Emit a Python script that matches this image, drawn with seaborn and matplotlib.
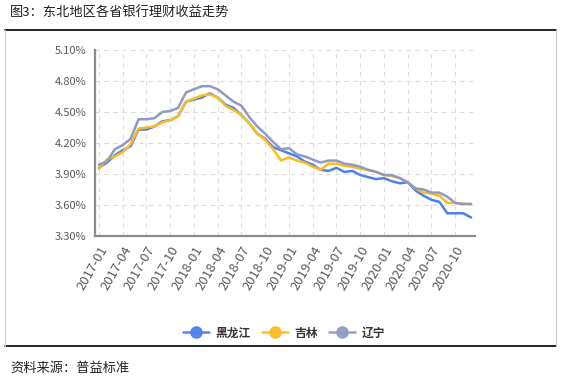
import numpy as np
import pandas as pd
import matplotlib.pyplot as plt
import seaborn as sns
from matplotlib.lines import Line2D

# ── data (monthly 2017-01 .. 2020-12) ──────────────────────────────────────
months = pd.date_range("2017-01", periods=48, freq="MS").strftime("%Y-%m").tolist()

heilongjiang = [3.96, 4.01, 4.08, 4.13, 4.17, 4.33, 4.33, 4.36, 4.41, 4.42, 4.46, 4.60,
                4.62, 4.64, 4.68, 4.64, 4.57, 4.54, 4.47, 4.39, 4.29, 4.24, 4.16, 4.13,
                4.10, 4.07, 4.02, 3.99, 3.94, 3.93, 3.96, 3.92, 3.93, 3.89, 3.87, 3.85,
                3.86, 3.83, 3.81, 3.82, 3.74, 3.69, 3.65, 3.63, 3.52, 3.52, 3.52, 3.48]
jilin = [3.95, 4.04, 4.07, 4.11, 4.19, 4.34, 4.35, 4.36, 4.40, 4.42, 4.46, 4.60,
         4.63, 4.66, 4.67, 4.64, 4.56, 4.52, 4.47, 4.39, 4.29, 4.23, 4.14, 4.03,
         4.06, 4.03, 4.01, 3.97, 3.94, 4.00, 4.00, 3.98, 3.97, 3.95, 3.94, 3.92,
         3.89, 3.88, 3.86, 3.82, 3.76, 3.72, 3.71, 3.69, 3.62, 3.62, 3.61, 3.61]
liaoning = [3.99, 4.02, 4.14, 4.18, 4.24, 4.43, 4.43, 4.44, 4.50, 4.51, 4.54, 4.69,
            4.72, 4.75, 4.75, 4.72, 4.66, 4.60, 4.56, 4.45, 4.36, 4.29, 4.21, 4.14,
            4.15, 4.09, 4.07, 4.04, 4.01, 4.03, 4.03, 4.00, 3.99, 3.97, 3.94, 3.92,
            3.89, 3.89, 3.86, 3.82, 3.76, 3.75, 3.72, 3.72, 3.68, 3.62, 3.61, 3.61]

names = ["黑龙江", "吉林", "辽宁"]
colors = ["#4f80f0", "#fbbd1e", "#8e9cc3"]
yticks = [3.30, 3.60, 3.90, 4.20, 4.50, 4.80, 5.10]

df = pd.DataFrame({"month": months, "idx": range(len(months)),
                   "黑龙江": heilongjiang, "吉林": jilin, "辽宁": liaoning})
long = df.melt(id_vars=["month", "idx"], value_vars=names,
               var_name="province", value_name="rate")

# ── plot ───────────────────────────────────────────────────────────────────
sns.set_style("white")
plt.rcParams["font.family"] = ["Noto Sans CJK SC", "DejaVu Sans"]

fig = plt.figure(figsize=(5.67, 3.82), dpi=100)
ax = fig.add_axes([95 / 567, 1 - 236 / 382, 380 / 567, 186 / 382])

sns.lineplot(data=long, x="idx", y="rate", hue="province", hue_order=names,
             palette=colors, linewidth=1.8, ax=ax, legend=False, zorder=3)

ax.set_xlim(-0.5, 47.5)
ax.set_ylim(3.30, 5.10)
ax.set_yticks(yticks)
ax.set_yticklabels([f"{v:.2f}%" for v in yticks], fontsize=8, color="#595959")
tick_idx = list(range(0, 48, 3))
ax.set_xticks(tick_idx)
ax.set_xticklabels([months[i] for i in tick_idx], rotation=60, ha="right",
                   rotation_mode="anchor", fontsize=9.5, color="#595959")
ax.set_xlabel("")
ax.set_ylabel("")

ax.grid(True, linestyle=(0, (4, 4)), color="#dddddd", linewidth=0.8, zorder=0)
for s in ["top", "right"]:
    ax.spines[s].set_visible(False)
for s in ["left", "bottom"]:
    ax.spines[s].set_color("#8c8c8c")
    ax.spines[s].set_linewidth(1.6)
ax.tick_params(axis="x", length=4, width=1, color="#8c8c8c", pad=2)
ax.tick_params(axis="y", length=4, width=1, color="#8c8c8c", pad=2)

# legend
handles = [Line2D([0], [0], color=c, lw=1.8, marker="o", markersize=8,
                  markerfacecolor=c, markeredgecolor=c, alpha=0.95)
           for c in colors]
leg = fig.legend(handles, names, loc="center", bbox_to_anchor=(284 / 567, 1 - 333 / 382),
                 ncol=3, frameon=False, fontsize=8.5, handlelength=2.2,
                 columnspacing=1.0, handletextpad=0.5)
for t in leg.get_texts():
    t.set_fontweight("bold")
    t.set_color("#333333")

# frame lines, title, source
fig.add_artist(Line2D([5 / 567, 556 / 567], [1 - 30 / 382] * 2, color="black", lw=1.2))
fig.add_artist(Line2D([5 / 567, 556 / 567], [1 - 346 / 382] * 2, color="black", lw=1.2))
fig.add_artist(Line2D([5 / 567] * 2, [1 - 30 / 382, 1 - 346 / 382], color="#cccccc", lw=0.8))
fig.add_artist(Line2D([556 / 567] * 2, [1 - 30 / 382, 1 - 346 / 382], color="#cccccc", lw=0.8))
fig.text(10 / 567, 1 - 13 / 382, "图3：东北地区各省银行理财收益走势", fontsize=9.5,
         va="center", ha="left", color="#222222")
fig.text(10 / 567, 1 - 368 / 382, "资料来源：普益标准", fontsize=9.5,
         va="center", ha="left", color="#222222")

fig.savefig("out.png", dpi=100)
